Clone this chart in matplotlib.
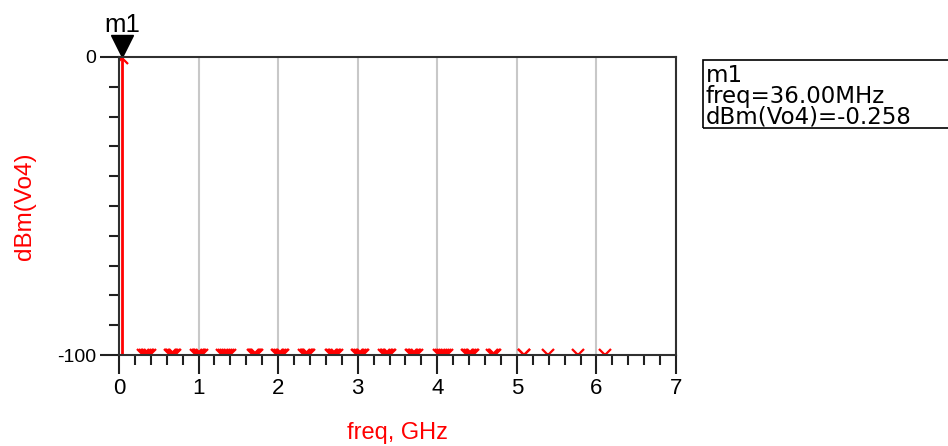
import matplotlib
matplotlib.use("Agg")
import matplotlib.pyplot as plt
from matplotlib.patches import Rectangle
from matplotlib.ticker import MultipleLocator, FixedLocator
from matplotlib.transforms import offset_copy

# spectrum of Vo4: main tone at 36 MHz, the rest clipped at the -100 dBm floor
freq_ghz = [0.036,
            0.306, 0.327, 0.348, 0.369, 0.390,
            0.641, 0.657, 0.672, 0.688, 0.703,
            0.969, 0.987, 1.005, 1.023, 1.041,
            1.291, 1.317, 1.343, 1.369, 1.395,
            1.685, 1.697, 1.710, 1.722, 1.735,
            1.981, 2.002, 2.023, 2.044, 2.065,
            2.328, 2.344, 2.359, 2.375, 2.390,
            2.664, 2.682, 2.700, 2.718, 2.736,
            2.988, 3.009, 3.030, 3.051, 3.072,
            3.332, 3.351, 3.370, 3.389, 3.408,
            3.669, 3.687, 3.705, 3.723, 3.741,
            4.022, 4.046, 4.070, 4.094, 4.118,
            4.368, 4.389, 4.410, 4.431, 4.452,
            4.689, 4.710, 4.731,
            5.084, 5.096,
            5.390,
            5.770,
            6.110]
dbm_vo4 = [-0.258] + [-100.0] * (len(freq_ghz) - 1)

marker_name = "m1"
marker_freq = 0.036
marker_lines = ["m1", "freq=36.00MHz", "dBm(Vo4)=-0.258"]

x_ticks = [0, 1, 2, 3, 4, 5, 6, 7]
y_ticks = [-100, 0]

fig = plt.figure(figsize=(9.48, 4.46), dpi=100)
ax = fig.add_axes([119 / 948, 1 - 355 / 446, 557 / 948, 298 / 446])

red = "#ff0000"
ax.vlines(freq_ghz, -100, dbm_vo4, colors=red, lw=2)
ax.plot(freq_ghz, dbm_vo4, "x", color=red, ms=8, mew=1.6)

ax.set_xlim(0, 7)
ax.set_ylim(-100, 0)
ax.xaxis.set_major_locator(FixedLocator(x_ticks))
ax.xaxis.set_minor_locator(MultipleLocator(0.2))
ax.yaxis.set_major_locator(FixedLocator(y_ticks))
ax.yaxis.set_minor_locator(MultipleLocator(10))
ax.set_xticklabels([str(t) for t in x_ticks], fontsize=16, family="Liberation Sans")
ax.set_yticklabels([str(t) for t in y_ticks], fontsize=14, family="Liberation Sans")
ax.tick_params(which="major", length=13.5, width=1.5, color="#202020", pad=3)
ax.tick_params(which="minor", length=7, width=1.5, color="#202020")

ax.grid(axis="x", color="#c8c8c8", lw=1.5)
for s in ax.spines.values():
    s.set_color("#303030")
    s.set_linewidth(1.5)

ax.set_xlabel("freq, GHz", color=red, fontsize=17, family="Liberation Sans")
ax.set_ylabel("dBm(Vo4)", color=red, fontsize=17.5, family="Liberation Sans")
ax.xaxis.set_label_coords(0.499, -0.225)
ax.yaxis.set_label_coords(-0.149, 0.5)

# marker m1: triangle above the spike with its name on top
tri = offset_copy(ax.transData, fig=fig, x=0, y=8.2, units="points")
ax.plot([marker_freq], [0], marker="v", ms=16.5, color="black",
        transform=tri, clip_on=False)
ax.annotate(marker_name, (marker_freq, 0), xytext=(0, 18), textcoords="offset points",
            ha="center", va="baseline", fontsize=18.5, family="Liberation Sans")

# marker readout box, cut by the right edge
fig.patches.append(Rectangle((703 / 948, 1 - 128 / 446), 300 / 948, 68 / 446,
                             transform=fig.transFigure, fill=False,
                             edgecolor="black", lw=1.2))
for i, line in enumerate(marker_lines):
    fig.text(706 / 948, 1 - (75 + 21 * i) / 446, line, ha="left", va="center",
             fontsize=16.5, family="DejaVu Sans")

fig.savefig("out.png", dpi=100)
